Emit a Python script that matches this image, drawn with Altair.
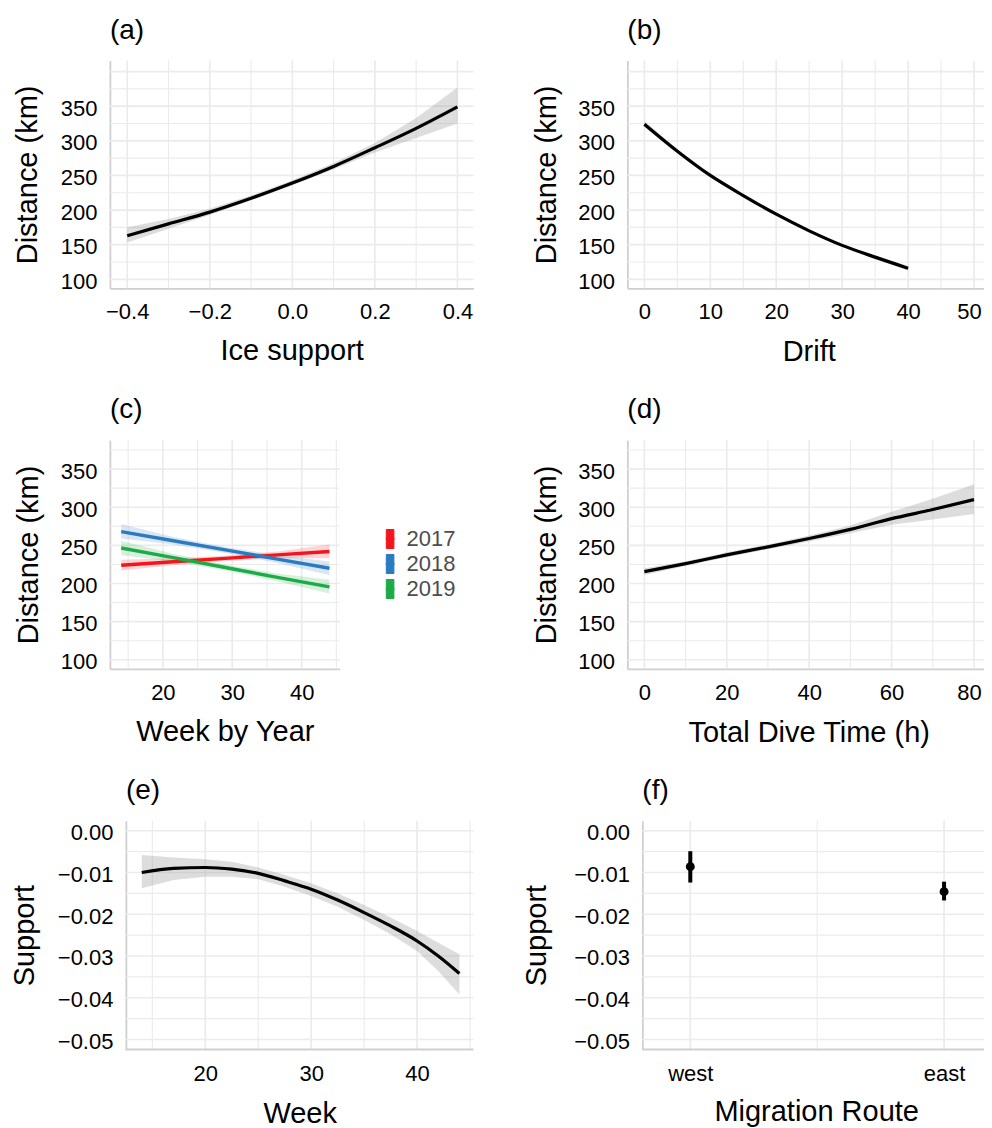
import altair as alt
import pandas as pd

FONT = "Liberation Sans"
GRID = "#EBEBEB"
AXIS_LINE = "#CFCFCF"
RIBBON = "#9E9E9E"

# ---------------- data ----------------
# (a) Ice support
ice_support = [-0.4, -0.3, -0.2, -0.1, 0.0, 0.1, 0.2, 0.3, 0.4]
ice_fit = [163, 180, 197, 217, 239, 263, 290, 318, 349]
ice_lo = [153, 173, 193, 214, 236, 259, 283, 304, 325]
ice_hi = [175, 187, 202, 221, 243, 268, 297, 333, 377]

# (b) Drift
drift = [0, 5, 10, 15, 20, 25, 30, 35, 40]
drift_fit = [324, 285, 250, 221, 194, 170, 149, 132, 116]
drift_lo = [320, 282, 248, 219, 192, 168, 147, 129, 113]
drift_hi = [329, 288, 252, 223, 196, 172, 151, 134, 119]

# (c) Week by Year
years = ["2017", "2018", "2019"]
year_colors = ["#F2161C", "#2B7BC1", "#1CAB46"]
week_by_year = [14, 21.5, 29, 36.5, 44]
fit_2017 = [224, 228.5, 233, 237.5, 242]
lo_2017 = [217, 224, 229.5, 233, 233]
hi_2017 = [231, 233, 236.5, 242, 251]
fit_2018 = [268, 256, 244, 232, 220]
lo_2018 = [259, 251, 240, 227, 211]
hi_2018 = [278, 261, 248, 237, 229]
fit_2019 = [246.5, 234, 221, 208, 195.5]
lo_2019 = [237, 229, 217, 203, 187]
hi_2019 = [256, 239, 225, 213, 205]

# (d) Total dive time
dive_time = [0, 10, 20, 30, 40, 50, 60, 70, 80]
dive_fit = [215.5, 226, 237.5, 248, 259, 271, 285, 297, 310]
dive_lo = [211, 223, 234.5, 245, 255, 266, 277, 284, 291]
dive_hi = [220, 229, 241, 251, 263, 276, 294, 311, 330]

# (e) Week
week = [14, 17, 20, 22.5, 25, 27.5, 30, 32.5, 35, 37.5, 40, 42, 44]
support_fit = [-0.0100, -0.0090, -0.0088, -0.0092, -0.0102, -0.0120, -0.0140,
               -0.0166, -0.0196, -0.0228, -0.0264, -0.0300, -0.0342]
support_lo = [-0.0138, -0.0118, -0.0110, -0.0110, -0.0116, -0.0134, -0.0156,
              -0.0182, -0.0214, -0.0248, -0.0288, -0.0336, -0.0392]
support_hi = [-0.0058, -0.0064, -0.0068, -0.0074, -0.0088, -0.0106, -0.0126,
              -0.0150, -0.0178, -0.0208, -0.0240, -0.0268, -0.0296]

# (f) Migration route
routes = ["west", "east"]
route_pos = [1, 2]
route_est = [-0.0086, -0.0146]
route_lo = [-0.0124, -0.0167]
route_hi = [-0.0049, -0.0122]

# ---------------- ticks / grid / domains ----------------
ab_y_domain = [87, 416]
ab_y_labels = [100, 150, 200, 250, 300, 350]
ab_y_major = [100, 150, 200, 250, 300, 350, 400]
ab_y_minor = [125, 175, 225, 275, 325, 375]
a_x_domain = [-0.442, 0.439]
a_x_major = [-0.4, -0.2, 0.0, 0.2, 0.4]
a_x_minor = [-0.3, -0.1, 0.1, 0.3]
b_x_domain = [-2.58, 52.42]
b_x_major = [0, 10, 20, 30, 40, 50]
b_x_minor = [5, 15, 25, 35, 45]

cd_y_domain = [88, 388]
cd_y_labels = [100, 150, 200, 250, 300, 350]
cd_y_major = [100, 150, 200, 250, 300, 350]
cd_y_minor = [125, 175, 225, 275, 325, 375]
c_x_domain = [12.37, 45.47]
c_x_major = [20, 30, 40]
c_x_minor = [15, 25, 35, 45]
d_x_domain = [-4.12, 83.88]
d_x_major = [0, 20, 40, 60, 80]
d_x_minor = [10, 30, 50, 70]

ef_y_domain = [-0.0524, 0.0024]
ef_y_major = [-0.05, -0.04, -0.03, -0.02, -0.01, 0.0]
ef_y_minor = [-0.045, -0.035, -0.025, -0.015, -0.005]
e_x_domain = [10.99, 45.33]
e_x_frame = [12.5, 45.33]
e_x_major = [20, 30, 40]
e_x_minor = [15, 25, 35, 45]
f_x_domain = [0.752, 2.181]
f_x_frame = [0.811, 2.181]
f_x_major = [1, 2]
f_x_minor = [1.5]


def sc(domain):
    return alt.Scale(domain=domain, nice=False, zero=False)


def edge_shift(last_value):
    # nudge the right-most tick label inward so it is not cut at the page edge
    return {"condition": {"test": "datum.value == %s" % last_value, "value": -5}, "value": 0}


def grid(xs, ys, xmaj, xmin, ymaj, ymin, frame=None):
    layers = []
    for vals, w in ((xmin, 1.1), (xmaj, 1.7)):
        layers.append(
            alt.Chart(pd.DataFrame({"gx": vals}))
            .mark_rule(color=GRID, strokeWidth=w)
            .encode(x=alt.X("gx:Q", scale=xs))
        )
    for vals, w in ((ymin, 1.1), (ymaj, 1.7)):
        if frame is None:
            layers.append(
                alt.Chart(pd.DataFrame({"gy": vals}))
                .mark_rule(color=GRID, strokeWidth=w)
                .encode(y=alt.Y("gy:Q", scale=ys))
            )
        else:
            df = pd.DataFrame({"gy": vals, "g0": frame[0], "g1": frame[1]})
            layers.append(
                alt.Chart(df)
                .mark_rule(color=GRID, strokeWidth=w)
                .encode(y=alt.Y("gy:Q", scale=ys), x=alt.X("g0:Q", scale=xs), x2="g1:Q")
            )
    if frame is not None:
        df = pd.DataFrame({"gy": [ys.domain[0]], "g0": frame[0], "g1": frame[1]})
        layers.append(
            alt.Chart(df)
            .mark_rule(color=AXIS_LINE, strokeWidth=1.8)
            .encode(y=alt.Y("gy:Q", scale=ys), x=alt.X("g0:Q", scale=xs), x2="g1:Q")
        )
    return layers


def smooth_panel(xvals, fit, lo, hi, xs, ys, xaxis, yaxis, grids, w, h, title):
    df = pd.DataFrame({"x": xvals, "fit": fit, "lo": lo, "hi": hi})
    # invisible first layer that carries the axes
    guide = alt.Chart(df).transform_filter("false").mark_line().encode(
        x=alt.X("x:Q", scale=xs, axis=xaxis),
        y=alt.Y("fit:Q", scale=ys, axis=yaxis),
    )
    band = alt.Chart(df).mark_area(color=RIBBON, opacity=0.35).encode(
        x=alt.X("x:Q", scale=xs),
        y=alt.Y("lo:Q", scale=ys),
        y2="hi:Q",
    )
    line = alt.Chart(df).mark_line(color="#000000", strokeWidth=3.2, interpolate="monotone").encode(
        x=alt.X("x:Q", scale=xs),
        y=alt.Y("fit:Q", scale=ys),
    )
    return alt.layer(guide, *grids, band, line).properties(width=w, height=h, title=title)


# (a)
xs_a, ys_ab = sc(a_x_domain), sc(ab_y_domain)
panel_a = smooth_panel(
    ice_support, ice_fit, ice_lo, ice_hi, xs_a, ys_ab,
    alt.Axis(values=a_x_major, format=".1f", title="Ice support", titleY=71),
    alt.Axis(values=ab_y_labels, title="Distance (km)", titleX=-73),
    grid(xs_a, ys_ab, a_x_major, a_x_minor, ab_y_major, ab_y_minor),
    364, 228, "(a)",
)

# (b)
xs_b = sc(b_x_domain)
panel_b = smooth_panel(
    drift, drift_fit, drift_lo, drift_hi, xs_b, ys_ab,
    alt.Axis(values=b_x_major, title="Drift", titleY=72, labelOffset=edge_shift(b_x_major[-1])),
    alt.Axis(values=ab_y_labels, title="Distance (km)", titleX=-72),
    grid(xs_b, ys_ab, b_x_major, b_x_minor, ab_y_major, ab_y_minor),
    363, 228, "(b)",
)

# (c)
xs_c, ys_cd = sc(c_x_domain), sc(cd_y_domain)
rows = []
for yr, fits, los, his in zip(years, [fit_2017, fit_2018, fit_2019],
                              [lo_2017, lo_2018, lo_2019], [hi_2017, hi_2018, hi_2019]):
    for wk, f_, l_, h_ in zip(week_by_year, fits, los, his):
        rows.append({"year": yr, "x": wk, "fit": f_, "lo": l_, "hi": h_})
df_c = pd.DataFrame(rows)
year_scale = alt.Scale(domain=years, range=year_colors)
KEY_PATH = "M-0.4,-1H0.4V1H-0.4Z M-0.4,-0.1H0.4V0.1H-0.4Z"
guide_c = alt.Chart(df_c).transform_filter("false").mark_point(
    filled=True, fill="#D9D9D9", shape="circle"
).encode(
    x=alt.X("x:Q", scale=xs_c, axis=alt.Axis(values=c_x_major, title="Week by Year",
                                             titleY=72, labelPadding=31)),
    y=alt.Y("fit:Q", scale=ys_cd, axis=alt.Axis(values=cd_y_labels, title="Distance (km)", titleX=-72)),
    stroke=alt.Stroke(
        "year:N", scale=year_scale,
        legend=alt.Legend(
            title=None, orient="none", legendX=269.5, legendY=468,
            symbolType=KEY_PATH, symbolSize=361, symbolFillColor="#D9D9D9",
            symbolStrokeWidth=1.0, symbolOpacity=1,
            labelFont=FONT, labelFontSize=22, labelColor="#4D4D4D",
            labelOffset=5.5, rowPadding=1, padding=0, direction="vertical",
        ),
    ),
)
band_c = alt.Chart(df_c).mark_area(opacity=0.18).encode(
    x=alt.X("x:Q", scale=xs_c),
    y=alt.Y("lo:Q", scale=ys_cd),
    y2="hi:Q",
    fill=alt.Fill("year:N", scale=year_scale, legend=None),
)
line_c = alt.Chart(df_c).mark_line(strokeWidth=3.4).encode(
    x=alt.X("x:Q", scale=xs_c),
    y=alt.Y("fit:Q", scale=ys_cd),
    stroke=alt.Stroke("year:N", scale=year_scale),
)
panel_c = alt.layer(
    guide_c,
    *grid(xs_c, ys_cd, c_x_major, c_x_minor, cd_y_major, cd_y_minor),
    band_c, line_c,
).properties(width=230, height=229, title="(c)")

# (d)
xs_d = sc(d_x_domain)
panel_d = smooth_panel(
    dive_time, dive_fit, dive_lo, dive_hi, xs_d, ys_cd,
    alt.Axis(values=d_x_major, title="Total Dive Time (h)", titleY=73, labelPadding=31,
             labelOffset=edge_shift(d_x_major[-1])),
    alt.Axis(values=cd_y_labels, title="Distance (km)", titleX=-72),
    grid(xs_d, ys_cd, d_x_major, d_x_minor, cd_y_major, cd_y_minor),
    363, 229, "(d)",
)

# (e)
xs_e, ys_ef = sc(e_x_domain), sc(ef_y_domain)
panel_e = smooth_panel(
    week, support_fit, support_lo, support_hi, xs_e, ys_ef,
    alt.Axis(values=e_x_major, title="Week", titleY=73, titleX=190, domain=False, labelPadding=31),
    alt.Axis(values=ef_y_major, format=".2f", title="Support", titleX=-92, offset=-16),
    grid(xs_e, ys_ef, e_x_major, e_x_minor, ef_y_major, ef_y_minor, frame=e_x_frame),
    364, 229, alt.Title("(e)", dx=16),
)

# (f)
xs_f = sc(f_x_domain)
df_f = pd.DataFrame({"x": route_pos, "est": route_est, "lo": route_lo, "hi": route_hi})
route_expr = "[" + ",".join("'%s'" % r for r in routes) + "][datum.value - 1]"
guide_f = alt.Chart(df_f).transform_filter("false").mark_point().encode(
    x=alt.X("x:Q", scale=xs_f, axis=alt.Axis(values=f_x_major, labelExpr=route_expr,
                                             title="Migration Route", titleY=71, titleX=189,
                                             domain=False, labelPadding=31)),
    y=alt.Y("est:Q", scale=ys_ef, axis=alt.Axis(values=ef_y_major, format=".2f",
                                               title="Support", titleX=-97, offset=-15)),
)
bars_f = alt.Chart(df_f).mark_rule(color="#000000", strokeWidth=4).encode(
    x=alt.X("x:Q", scale=xs_f),
    y=alt.Y("lo:Q", scale=ys_ef),
    y2="hi:Q",
)
pts_f = alt.Chart(df_f).mark_point(filled=True, color="#000000", size=80, opacity=1).encode(
    x=alt.X("x:Q", scale=xs_f),
    y=alt.Y("est:Q", scale=ys_ef),
)
panel_f = alt.layer(
    guide_f,
    *grid(xs_f, ys_ef, f_x_major, f_x_minor, ef_y_major, ef_y_minor, frame=f_x_frame),
    bars_f, pts_f,
).properties(width=363, height=229, title=alt.Title("(f)", dx=15))

chart = (
    alt.concat(
        panel_a, panel_b, panel_c, panel_d, panel_e, panel_f,
        columns=2, spacing={"row": 152, "column": 154}, bounds="flush", align="each",
    )
    .properties(padding={"left": 3, "top": 8, "right": -7, "bottom": 0})
    .configure(font=FONT)
    .configure_view(stroke=None)
    .configure_axis(
        labelFont=FONT, labelFontSize=22, labelColor="#000000",
        titleFont=FONT, titleFontSize=29, titleFontWeight="normal", titleColor="#000000",
        grid=False, ticks=False, tickSize=0,
        domainColor=AXIS_LINE, domainWidth=1.8,
        labelFlush=False, labelOverlap=False,
    )
    .configure_axisBottom(labelPadding=30, labelBaseline="alphabetic", titleBaseline="alphabetic")
    .configure_axisLeft(labelPadding=13, labelBaseline="alphabetic", labelOffset=9,
                        titleAngle=270, titleBaseline="alphabetic")
    .configure_title(font=FONT, fontSize=28, fontWeight="normal", color="#000000",
                     anchor="start", frame="group", baseline="alphabetic", offset=15)
)

chart.save("out.html", embed_options={"renderer": "svg", "actions": False})
